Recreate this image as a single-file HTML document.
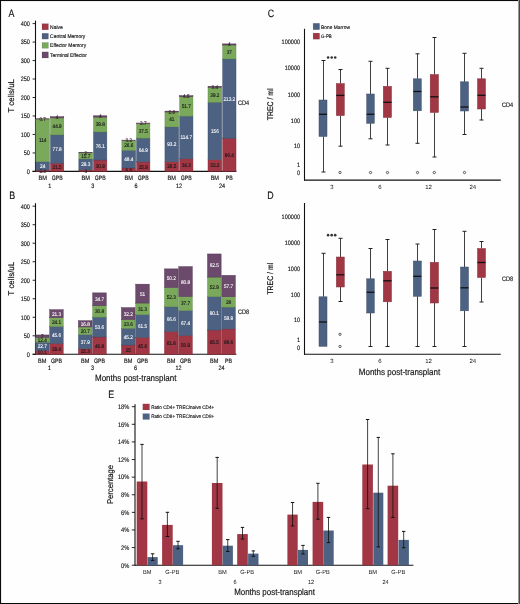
<!DOCTYPE html>
<html><head><meta charset="utf-8"><style>
html,body{margin:0;padding:0;background:#fff;}
body{width:520px;height:604px;overflow:hidden;position:relative;}
svg{position:absolute;left:0;top:0;will-change:transform;}
text{font-family:"Liberation Sans", sans-serif;text-rendering:geometricPrecision;paint-order:stroke;}
.bt{stroke:#111;stroke-width:0.14px;}
.wt{stroke:#fff;stroke-width:0.1px;}
</style></head><body>
<svg width="520" height="604" viewBox="0 0 520 604">
<rect x="0" y="0" width="520" height="604" fill="#fefefe"/>
<text x="8.4" y="16.5" font-size="10.8" text-anchor="start" fill="#111" textLength="5.91" lengthAdjust="spacingAndGlyphs" class="bt" >A</text>
<line x1="35.5" y1="20.599999999999994" x2="35.5" y2="171.9" stroke="#111" stroke-width="1.1"/>
<line x1="32.6" y1="171.4" x2="35.5" y2="171.4" stroke="#111" stroke-width="0.9"/>
<text x="29.9" y="173.75" font-size="6.6" text-anchor="end" fill="#111" textLength="3.08" lengthAdjust="spacingAndGlyphs" class="bt" >0</text>
<line x1="32.6" y1="152.925" x2="35.5" y2="152.925" stroke="#111" stroke-width="0.9"/>
<text x="29.9" y="155.275" font-size="6.6" text-anchor="end" fill="#111" textLength="6.17" lengthAdjust="spacingAndGlyphs" class="bt" >50</text>
<line x1="32.6" y1="134.45" x2="35.5" y2="134.45" stroke="#111" stroke-width="0.9"/>
<text x="29.9" y="136.79999999999998" font-size="6.6" text-anchor="end" fill="#111" textLength="9.25" lengthAdjust="spacingAndGlyphs" class="bt" >100</text>
<line x1="32.6" y1="115.975" x2="35.5" y2="115.975" stroke="#111" stroke-width="0.9"/>
<text x="29.9" y="118.32499999999999" font-size="6.6" text-anchor="end" fill="#111" textLength="9.25" lengthAdjust="spacingAndGlyphs" class="bt" >150</text>
<line x1="32.6" y1="97.5" x2="35.5" y2="97.5" stroke="#111" stroke-width="0.9"/>
<text x="29.9" y="99.85" font-size="6.6" text-anchor="end" fill="#111" textLength="9.25" lengthAdjust="spacingAndGlyphs" class="bt" >200</text>
<line x1="32.6" y1="79.02499999999999" x2="35.5" y2="79.02499999999999" stroke="#111" stroke-width="0.9"/>
<text x="29.9" y="81.37499999999999" font-size="6.6" text-anchor="end" fill="#111" textLength="9.25" lengthAdjust="spacingAndGlyphs" class="bt" >250</text>
<line x1="32.6" y1="60.55" x2="35.5" y2="60.55" stroke="#111" stroke-width="0.9"/>
<text x="29.9" y="62.9" font-size="6.6" text-anchor="end" fill="#111" textLength="9.25" lengthAdjust="spacingAndGlyphs" class="bt" >300</text>
<line x1="32.6" y1="42.07499999999999" x2="35.5" y2="42.07499999999999" stroke="#111" stroke-width="0.9"/>
<text x="29.9" y="44.42499999999999" font-size="6.6" text-anchor="end" fill="#111" textLength="9.25" lengthAdjust="spacingAndGlyphs" class="bt" >350</text>
<line x1="32.6" y1="23.599999999999994" x2="35.5" y2="23.599999999999994" stroke="#111" stroke-width="0.9"/>
<text x="29.9" y="25.949999999999996" font-size="6.6" text-anchor="end" fill="#111" textLength="9.25" lengthAdjust="spacingAndGlyphs" class="bt" >400</text>
<line x1="32.6" y1="171.4" x2="236.4" y2="171.4" stroke="#111" stroke-width="1.1"/>
<rect x="35.80" y="170.11" width="13.70" height="1.29" fill="#a13644" stroke="#7d2633" stroke-width="0.45"/>
<rect x="35.80" y="161.61" width="13.70" height="8.50" fill="#4d6282" stroke="#3c4d68" stroke-width="0.45"/>
<rect x="35.80" y="119.00" width="13.70" height="42.60" fill="#7aa95c" stroke="#5f8a45" stroke-width="0.45"/>
<rect x="35.80" y="118.78" width="13.70" height="0.22" fill="#6b4a6b" stroke="#4e2f50" stroke-width="0.45"/>
<text x="42.65" y="172.683375" font-size="5.4" text-anchor="middle" fill="#3a2a2a" textLength="6.53" lengthAdjust="spacingAndGlyphs" class="bt" >2.4</text>
<text x="42.65" y="167.78750000000002" font-size="5.4" text-anchor="middle" fill="#fff" textLength="5.23" lengthAdjust="spacingAndGlyphs" class="wt" >24</text>
<text x="42.65" y="142.23657500000002" font-size="5.4" text-anchor="middle" fill="#1a1a1a" textLength="7.49" lengthAdjust="spacingAndGlyphs" class="bt" >114</text>
<text x="42.65" y="120.82405" font-size="5.4" text-anchor="middle" fill="#3a2a2a" textLength="6.53" lengthAdjust="spacingAndGlyphs" class="bt" >0.7</text>
<text x="42.65" y="179.85" font-size="6.3" text-anchor="middle" fill="#111" textLength="8.4" lengthAdjust="spacingAndGlyphs" class="bt" >BM</text>
<rect x="50.50" y="163.20" width="13.30" height="8.20" fill="#a13644" stroke="#7d2633" stroke-width="0.45"/>
<rect x="50.50" y="134.89" width="13.30" height="28.30" fill="#4d6282" stroke="#3c4d68" stroke-width="0.45"/>
<rect x="50.50" y="117.90" width="13.30" height="17.00" fill="#7aa95c" stroke="#5f8a45" stroke-width="0.45"/>
<rect x="50.50" y="116.71" width="13.30" height="1.18" fill="#6b4a6b" stroke="#4e2f50" stroke-width="0.45"/>
<text x="57.15" y="169.22855" font-size="5.4" text-anchor="middle" fill="#1a1a1a" textLength="9.14" lengthAdjust="spacingAndGlyphs" class="bt" >21.5</text>
<text x="57.15" y="150.97525000000002" font-size="5.4" text-anchor="middle" fill="#fff" textLength="9.14" lengthAdjust="spacingAndGlyphs" class="wt" >77.8</text>
<text x="57.15" y="128.3249" font-size="5.4" text-anchor="middle" fill="#1a1a1a" textLength="9.14" lengthAdjust="spacingAndGlyphs" class="bt" >44.9</text>
<text x="57.15" y="119.2352" font-size="5.4" text-anchor="middle" fill="#3a2a2a" textLength="2.61" lengthAdjust="spacingAndGlyphs" class="bt" >4</text>
<text x="57.15" y="179.85" font-size="6.3" text-anchor="middle" fill="#111" textLength="11.0" lengthAdjust="spacingAndGlyphs" class="bt" >GPB</text>
<text x="49.8" y="188.05" font-size="6.3" text-anchor="middle" fill="#111" textLength="3.05" lengthAdjust="spacingAndGlyphs" class="bt" >1</text>
<rect x="78.85" y="169.89" width="13.70" height="1.51" fill="#a13644" stroke="#7d2633" stroke-width="0.45"/>
<rect x="78.85" y="158.87" width="13.70" height="11.01" fill="#4d6282" stroke="#3c4d68" stroke-width="0.45"/>
<rect x="78.85" y="152.89" width="13.70" height="5.99" fill="#7aa95c" stroke="#5f8a45" stroke-width="0.45"/>
<rect x="78.85" y="152.59" width="13.70" height="0.30" fill="#6b4a6b" stroke="#4e2f50" stroke-width="0.45"/>
<text x="85.69999999999999" y="172.572525" font-size="5.4" text-anchor="middle" fill="#3a2a2a" textLength="2.61" lengthAdjust="spacingAndGlyphs" class="bt" >4</text>
<text x="85.69999999999999" y="166.3095" font-size="5.4" text-anchor="middle" fill="#fff" textLength="9.14" lengthAdjust="spacingAndGlyphs" class="wt" >29.3</text>
<text x="85.69999999999999" y="157.811" font-size="5.4" text-anchor="middle" fill="#1a1a1a" textLength="9.14" lengthAdjust="spacingAndGlyphs" class="bt" >15.7</text>
<text x="85.69999999999999" y="154.67025" font-size="5.4" text-anchor="middle" fill="#3a2a2a" textLength="2.61" lengthAdjust="spacingAndGlyphs" class="bt" >2</text>
<text x="85.69999999999999" y="179.85" font-size="6.3" text-anchor="middle" fill="#111" textLength="8.4" lengthAdjust="spacingAndGlyphs" class="bt" >BM</text>
<rect x="93.55" y="159.98" width="13.30" height="11.42" fill="#a13644" stroke="#7d2633" stroke-width="0.45"/>
<rect x="93.55" y="131.97" width="13.30" height="28.01" fill="#4d6282" stroke="#3c4d68" stroke-width="0.45"/>
<rect x="93.55" y="117.08" width="13.30" height="14.89" fill="#7aa95c" stroke="#5f8a45" stroke-width="0.45"/>
<rect x="93.55" y="115.79" width="13.30" height="1.29" fill="#6b4a6b" stroke="#4e2f50" stroke-width="0.45"/>
<text x="100.2" y="167.621225" font-size="5.4" text-anchor="middle" fill="#1a1a1a" textLength="9.14" lengthAdjust="spacingAndGlyphs" class="bt" >30.9</text>
<text x="100.2" y="147.9084" font-size="5.4" text-anchor="middle" fill="#fff" textLength="9.14" lengthAdjust="spacingAndGlyphs" class="wt" >76.1</text>
<text x="100.2" y="126.45892500000001" font-size="5.4" text-anchor="middle" fill="#1a1a1a" textLength="9.14" lengthAdjust="spacingAndGlyphs" class="bt" >39.8</text>
<text x="100.2" y="118.36687500000001" font-size="5.4" text-anchor="middle" fill="#3a2a2a" textLength="2.61" lengthAdjust="spacingAndGlyphs" class="bt" >4</text>
<text x="100.2" y="179.85" font-size="6.3" text-anchor="middle" fill="#111" textLength="11.0" lengthAdjust="spacingAndGlyphs" class="bt" >GPB</text>
<text x="92.85" y="188.05" font-size="6.3" text-anchor="middle" fill="#111" textLength="3.05" lengthAdjust="spacingAndGlyphs" class="bt" >3</text>
<rect x="121.90" y="168.00" width="13.70" height="3.40" fill="#a13644" stroke="#7d2633" stroke-width="0.45"/>
<rect x="121.90" y="150.30" width="13.70" height="17.70" fill="#4d6282" stroke="#3c4d68" stroke-width="0.45"/>
<rect x="121.90" y="140.40" width="13.70" height="9.90" fill="#7aa95c" stroke="#5f8a45" stroke-width="0.45"/>
<rect x="121.90" y="140.10" width="13.70" height="0.30" fill="#6b4a6b" stroke="#4e2f50" stroke-width="0.45"/>
<text x="128.75" y="171.6303" font-size="5.4" text-anchor="middle" fill="#3a2a2a" textLength="6.53" lengthAdjust="spacingAndGlyphs" class="bt" >8.8</text>
<text x="128.75" y="161.081075" font-size="5.4" text-anchor="middle" fill="#fff" textLength="9.14" lengthAdjust="spacingAndGlyphs" class="wt" >48.4</text>
<text x="128.75" y="147.28025000000002" font-size="5.4" text-anchor="middle" fill="#1a1a1a" textLength="9.14" lengthAdjust="spacingAndGlyphs" class="bt" >26.6</text>
<text x="128.75" y="142.18115" font-size="5.4" text-anchor="middle" fill="#3a2a2a" textLength="6.53" lengthAdjust="spacingAndGlyphs" class="bt" >3.2</text>
<text x="128.75" y="179.85" font-size="6.3" text-anchor="middle" fill="#111" textLength="8.4" lengthAdjust="spacingAndGlyphs" class="bt" >BM</text>
<rect x="136.60" y="161.90" width="13.30" height="9.50" fill="#a13644" stroke="#7d2633" stroke-width="0.45"/>
<rect x="136.60" y="138.11" width="13.30" height="23.80" fill="#4d6282" stroke="#3c4d68" stroke-width="0.45"/>
<rect x="136.60" y="123.62" width="13.30" height="14.48" fill="#7aa95c" stroke="#5f8a45" stroke-width="0.45"/>
<rect x="136.60" y="123.03" width="13.30" height="0.59" fill="#6b4a6b" stroke="#4e2f50" stroke-width="0.45"/>
<text x="143.25" y="168.581925" font-size="5.4" text-anchor="middle" fill="#1a1a1a" textLength="9.14" lengthAdjust="spacingAndGlyphs" class="bt" >25.9</text>
<text x="143.25" y="151.93595000000002" font-size="5.4" text-anchor="middle" fill="#fff" textLength="9.14" lengthAdjust="spacingAndGlyphs" class="wt" >64.9</text>
<text x="143.25" y="132.79585" font-size="5.4" text-anchor="middle" fill="#1a1a1a" textLength="9.14" lengthAdjust="spacingAndGlyphs" class="bt" >37.5</text>
<text x="143.25" y="125.25805" font-size="5.4" text-anchor="middle" fill="#3a2a2a" textLength="6.53" lengthAdjust="spacingAndGlyphs" class="bt" >2.7</text>
<text x="143.25" y="179.85" font-size="6.3" text-anchor="middle" fill="#111" textLength="11.0" lengthAdjust="spacingAndGlyphs" class="bt" >GPB</text>
<text x="135.89999999999998" y="188.05" font-size="6.3" text-anchor="middle" fill="#111" textLength="3.05" lengthAdjust="spacingAndGlyphs" class="bt" >6</text>
<rect x="164.95" y="161.61" width="13.70" height="9.79" fill="#a13644" stroke="#7d2633" stroke-width="0.45"/>
<rect x="164.95" y="126.91" width="13.70" height="34.70" fill="#4d6282" stroke="#3c4d68" stroke-width="0.45"/>
<rect x="164.95" y="112.02" width="13.70" height="14.89" fill="#7aa95c" stroke="#5f8a45" stroke-width="0.45"/>
<rect x="164.95" y="111.13" width="13.70" height="0.89" fill="#6b4a6b" stroke="#4e2f50" stroke-width="0.45"/>
<text x="171.79999999999998" y="168.43412500000002" font-size="5.4" text-anchor="middle" fill="#1a1a1a" textLength="9.14" lengthAdjust="spacingAndGlyphs" class="bt" >26.5</text>
<text x="171.79999999999998" y="146.190225" font-size="5.4" text-anchor="middle" fill="#fff" textLength="9.14" lengthAdjust="spacingAndGlyphs" class="wt" >93.2</text>
<text x="171.79999999999998" y="121.39677499999999" font-size="5.4" text-anchor="middle" fill="#1a1a1a" textLength="5.23" lengthAdjust="spacingAndGlyphs" class="bt" >41</text>
<text x="171.79999999999998" y="113.50795000000002" font-size="5.4" text-anchor="middle" fill="#3a2a2a" textLength="6.53" lengthAdjust="spacingAndGlyphs" class="bt" >2.6</text>
<text x="171.79999999999998" y="179.85" font-size="6.3" text-anchor="middle" fill="#111" textLength="8.4" lengthAdjust="spacingAndGlyphs" class="bt" >BM</text>
<rect x="179.65" y="158.80" width="13.30" height="12.60" fill="#a13644" stroke="#7d2633" stroke-width="0.45"/>
<rect x="179.65" y="116.12" width="13.30" height="42.68" fill="#4d6282" stroke="#3c4d68" stroke-width="0.45"/>
<rect x="179.65" y="96.72" width="13.30" height="19.40" fill="#7aa95c" stroke="#5f8a45" stroke-width="0.45"/>
<rect x="179.65" y="95.62" width="13.30" height="1.11" fill="#6b4a6b" stroke="#4e2f50" stroke-width="0.45"/>
<text x="186.29999999999998" y="167.03002500000002" font-size="5.4" text-anchor="middle" fill="#1a1a1a" textLength="9.14" lengthAdjust="spacingAndGlyphs" class="bt" >34.3</text>
<text x="186.29999999999998" y="139.39142500000003" font-size="5.4" text-anchor="middle" fill="#fff" textLength="11.41" lengthAdjust="spacingAndGlyphs" class="wt" >114.7</text>
<text x="186.29999999999998" y="108.353425" font-size="5.4" text-anchor="middle" fill="#1a1a1a" textLength="9.14" lengthAdjust="spacingAndGlyphs" class="bt" >51.7</text>
<text x="186.29999999999998" y="98.0998" font-size="5.4" text-anchor="middle" fill="#3a2a2a" textLength="6.53" lengthAdjust="spacingAndGlyphs" class="bt" >4.5</text>
<text x="186.29999999999998" y="179.85" font-size="6.3" text-anchor="middle" fill="#111" textLength="11.0" lengthAdjust="spacingAndGlyphs" class="bt" >GPB</text>
<text x="178.95" y="188.05" font-size="6.3" text-anchor="middle" fill="#111" textLength="6.1" lengthAdjust="spacingAndGlyphs" class="bt" >12</text>
<rect x="208.00" y="159.61" width="13.70" height="11.79" fill="#a13644" stroke="#7d2633" stroke-width="0.45"/>
<rect x="208.00" y="102.23" width="13.70" height="57.38" fill="#4d6282" stroke="#3c4d68" stroke-width="0.45"/>
<rect x="208.00" y="87.34" width="13.70" height="14.89" fill="#7aa95c" stroke="#5f8a45" stroke-width="0.45"/>
<rect x="208.00" y="86.23" width="13.70" height="1.11" fill="#6b4a6b" stroke="#4e2f50" stroke-width="0.45"/>
<text x="214.85" y="167.436475" font-size="5.4" text-anchor="middle" fill="#1a1a1a" textLength="9.14" lengthAdjust="spacingAndGlyphs" class="bt" >32.2</text>
<text x="214.85" y="132.851275" font-size="5.4" text-anchor="middle" fill="#fff" textLength="7.84" lengthAdjust="spacingAndGlyphs" class="wt" >156</text>
<text x="214.85" y="96.714175" font-size="5.4" text-anchor="middle" fill="#1a1a1a" textLength="9.14" lengthAdjust="spacingAndGlyphs" class="bt" >39.2</text>
<text x="214.85" y="88.7145" font-size="5.4" text-anchor="middle" fill="#3a2a2a" textLength="6.53" lengthAdjust="spacingAndGlyphs" class="bt" >3.4</text>
<text x="214.85" y="179.85" font-size="6.3" text-anchor="middle" fill="#111" textLength="8.4" lengthAdjust="spacingAndGlyphs" class="bt" >BM</text>
<rect x="222.70" y="138.18" width="13.30" height="33.22" fill="#a13644" stroke="#7d2633" stroke-width="0.45"/>
<rect x="222.70" y="59.00" width="13.30" height="79.18" fill="#4d6282" stroke="#3c4d68" stroke-width="0.45"/>
<rect x="222.70" y="44.99" width="13.30" height="14.00" fill="#7aa95c" stroke="#5f8a45" stroke-width="0.45"/>
<rect x="222.70" y="43.89" width="13.30" height="1.11" fill="#6b4a6b" stroke="#4e2f50" stroke-width="0.45"/>
<text x="229.35" y="156.720975" font-size="5.4" text-anchor="middle" fill="#1a1a1a" textLength="9.14" lengthAdjust="spacingAndGlyphs" class="bt" >90.4</text>
<text x="229.35" y="100.520025" font-size="5.4" text-anchor="middle" fill="#fff" textLength="11.76" lengthAdjust="spacingAndGlyphs" class="wt" >213.2</text>
<text x="229.35" y="53.926074999999976" font-size="5.4" text-anchor="middle" fill="#1a1a1a" textLength="5.23" lengthAdjust="spacingAndGlyphs" class="bt" >37</text>
<text x="229.35" y="46.36979999999998" font-size="5.4" text-anchor="middle" fill="#3a2a2a" textLength="2.61" lengthAdjust="spacingAndGlyphs" class="bt" >4</text>
<text x="229.35" y="179.85" font-size="6.3" text-anchor="middle" fill="#111" textLength="7.0" lengthAdjust="spacingAndGlyphs" class="bt" >PB</text>
<text x="222.0" y="188.05" font-size="6.3" text-anchor="middle" fill="#111" textLength="6.1" lengthAdjust="spacingAndGlyphs" class="bt" >24</text>
<text x="237.9" y="104.7" font-size="6.5" text-anchor="start" fill="#111" textLength="11.1" lengthAdjust="spacingAndGlyphs" class="bt" >CD4</text>
<text transform="translate(13.7,95.8) rotate(-90)" font-size="8.4" text-anchor="middle" fill="#111" textLength="33.599999999999994" lengthAdjust="spacingAndGlyphs" stroke="#111" stroke-width="0.2" style="paint-order:stroke">T cells/uL</text>
<rect x="42.00" y="23.70" width="6.40" height="6.10" fill="#a13644" stroke="#0003" stroke-width="0.5"/>
<text x="50.1" y="28.75" font-size="5.4" text-anchor="start" fill="#111" textLength="12.7" lengthAdjust="spacingAndGlyphs" class="bt" >Naive</text>
<rect x="42.00" y="33.30" width="6.40" height="5.80" fill="#4d6282" stroke="#0003" stroke-width="0.5"/>
<text x="50.1" y="38.2" font-size="5.4" text-anchor="start" fill="#111" textLength="35.2" lengthAdjust="spacingAndGlyphs" class="bt" >Central Memory</text>
<rect x="42.00" y="42.50" width="6.40" height="5.80" fill="#7aa95c" stroke="#0003" stroke-width="0.5"/>
<text x="50.1" y="47.4" font-size="5.4" text-anchor="start" fill="#111" textLength="36.1" lengthAdjust="spacingAndGlyphs" class="bt" >Effector Memory</text>
<rect x="42.00" y="51.90" width="6.40" height="6.10" fill="#6b4a6b" stroke="#0003" stroke-width="0.5"/>
<text x="50.1" y="56.95" font-size="5.4" text-anchor="start" fill="#111" textLength="36.9" lengthAdjust="spacingAndGlyphs" class="bt" >Terminal Effector</text>
<text x="9.3" y="199.1" font-size="10.8" text-anchor="start" fill="#111" textLength="5.91" lengthAdjust="spacingAndGlyphs" class="bt" >B</text>
<line x1="35.5" y1="203.2" x2="35.5" y2="354.8" stroke="#111" stroke-width="1.1"/>
<line x1="32.6" y1="354.3" x2="35.5" y2="354.3" stroke="#111" stroke-width="0.9"/>
<text x="29.9" y="356.65000000000003" font-size="6.6" text-anchor="end" fill="#111" textLength="3.08" lengthAdjust="spacingAndGlyphs" class="bt" >0</text>
<line x1="32.6" y1="335.7875" x2="35.5" y2="335.7875" stroke="#111" stroke-width="0.9"/>
<text x="29.9" y="338.13750000000005" font-size="6.6" text-anchor="end" fill="#111" textLength="6.17" lengthAdjust="spacingAndGlyphs" class="bt" >50</text>
<line x1="32.6" y1="317.275" x2="35.5" y2="317.275" stroke="#111" stroke-width="0.9"/>
<text x="29.9" y="319.625" font-size="6.6" text-anchor="end" fill="#111" textLength="9.25" lengthAdjust="spacingAndGlyphs" class="bt" >100</text>
<line x1="32.6" y1="298.7625" x2="35.5" y2="298.7625" stroke="#111" stroke-width="0.9"/>
<text x="29.9" y="301.1125" font-size="6.6" text-anchor="end" fill="#111" textLength="9.25" lengthAdjust="spacingAndGlyphs" class="bt" >150</text>
<line x1="32.6" y1="280.25" x2="35.5" y2="280.25" stroke="#111" stroke-width="0.9"/>
<text x="29.9" y="282.6" font-size="6.6" text-anchor="end" fill="#111" textLength="9.25" lengthAdjust="spacingAndGlyphs" class="bt" >200</text>
<line x1="32.6" y1="261.7375" x2="35.5" y2="261.7375" stroke="#111" stroke-width="0.9"/>
<text x="29.9" y="264.08750000000003" font-size="6.6" text-anchor="end" fill="#111" textLength="9.25" lengthAdjust="spacingAndGlyphs" class="bt" >250</text>
<line x1="32.6" y1="243.225" x2="35.5" y2="243.225" stroke="#111" stroke-width="0.9"/>
<text x="29.9" y="245.575" font-size="6.6" text-anchor="end" fill="#111" textLength="9.25" lengthAdjust="spacingAndGlyphs" class="bt" >300</text>
<line x1="32.6" y1="224.71249999999998" x2="35.5" y2="224.71249999999998" stroke="#111" stroke-width="0.9"/>
<text x="29.9" y="227.06249999999997" font-size="6.6" text-anchor="end" fill="#111" textLength="9.25" lengthAdjust="spacingAndGlyphs" class="bt" >350</text>
<line x1="32.6" y1="206.2" x2="35.5" y2="206.2" stroke="#111" stroke-width="0.9"/>
<text x="29.9" y="208.54999999999998" font-size="6.6" text-anchor="end" fill="#111" textLength="9.25" lengthAdjust="spacingAndGlyphs" class="bt" >400</text>
<line x1="32.6" y1="354.3" x2="236.4" y2="354.3" stroke="#111" stroke-width="1.1"/>
<rect x="35.40" y="350.56" width="13.60" height="3.74" fill="#a13644" stroke="#7d2633" stroke-width="0.45"/>
<rect x="35.40" y="342.16" width="13.60" height="8.40" fill="#4d6282" stroke="#3c4d68" stroke-width="0.45"/>
<rect x="35.40" y="337.56" width="13.60" height="4.59" fill="#7aa95c" stroke="#5f8a45" stroke-width="0.45"/>
<rect x="35.40" y="334.97" width="13.60" height="2.59" fill="#6b4a6b" stroke="#4e2f50" stroke-width="0.45"/>
<text x="42.199999999999996" y="354.36023750000004" font-size="5.4" text-anchor="middle" fill="#3a2a2a" textLength="9.14" lengthAdjust="spacingAndGlyphs" class="bt" >10.1</text>
<text x="42.199999999999996" y="348.2881375" font-size="5.4" text-anchor="middle" fill="#fff" textLength="9.14" lengthAdjust="spacingAndGlyphs" class="wt" >22.7</text>
<text x="42.199999999999996" y="341.79025" font-size="5.4" text-anchor="middle" fill="#1a1a1a" textLength="9.14" lengthAdjust="spacingAndGlyphs" class="bt" >12.4</text>
<text x="42.199999999999996" y="338.198825" font-size="5.4" text-anchor="middle" fill="#3a2a2a" textLength="2.61" lengthAdjust="spacingAndGlyphs" class="bt" >7</text>
<text x="42.199999999999996" y="362.65000000000003" font-size="6.3" text-anchor="middle" fill="#111" textLength="8.4" lengthAdjust="spacingAndGlyphs" class="bt" >BM</text>
<rect x="49.70" y="343.41" width="13.50" height="10.89" fill="#a13644" stroke="#7d2633" stroke-width="0.45"/>
<rect x="49.70" y="326.53" width="13.50" height="16.88" fill="#4d6282" stroke="#3c4d68" stroke-width="0.45"/>
<rect x="49.70" y="317.61" width="13.50" height="8.92" fill="#7aa95c" stroke="#5f8a45" stroke-width="0.45"/>
<rect x="49.70" y="309.72" width="13.50" height="7.89" fill="#6b4a6b" stroke="#4e2f50" stroke-width="0.45"/>
<text x="56.45" y="350.787325" font-size="5.4" text-anchor="middle" fill="#1a1a1a" textLength="9.14" lengthAdjust="spacingAndGlyphs" class="bt" >29.4</text>
<text x="56.45" y="336.90295000000003" font-size="5.4" text-anchor="middle" fill="#fff" textLength="9.14" lengthAdjust="spacingAndGlyphs" class="wt" >45.6</text>
<text x="56.45" y="323.9997375" font-size="5.4" text-anchor="middle" fill="#1a1a1a" textLength="9.14" lengthAdjust="spacingAndGlyphs" class="bt" >24.1</text>
<text x="56.45" y="315.5950625" font-size="5.4" text-anchor="middle" fill="#fff" textLength="9.14" lengthAdjust="spacingAndGlyphs" class="wt" >21.3</text>
<text x="56.45" y="362.65000000000003" font-size="6.3" text-anchor="middle" fill="#111" textLength="11.0" lengthAdjust="spacingAndGlyphs" class="bt" >GPB</text>
<text x="49.4" y="369.55" font-size="6.3" text-anchor="middle" fill="#111" textLength="3.05" lengthAdjust="spacingAndGlyphs" class="bt" >1</text>
<rect x="78.43" y="348.64" width="13.60" height="5.66" fill="#a13644" stroke="#7d2633" stroke-width="0.45"/>
<rect x="78.43" y="334.60" width="13.60" height="14.03" fill="#4d6282" stroke="#3c4d68" stroke-width="0.45"/>
<rect x="78.43" y="326.94" width="13.60" height="7.66" fill="#7aa95c" stroke="#5f8a45" stroke-width="0.45"/>
<rect x="78.43" y="320.72" width="13.60" height="6.22" fill="#6b4a6b" stroke="#4e2f50" stroke-width="0.45"/>
<text x="85.23" y="353.39758750000004" font-size="5.4" text-anchor="middle" fill="#1a1a1a" textLength="9.14" lengthAdjust="spacingAndGlyphs" class="bt" >15.3</text>
<text x="85.23" y="343.5489375" font-size="5.4" text-anchor="middle" fill="#fff" textLength="9.14" lengthAdjust="spacingAndGlyphs" class="wt" >37.9</text>
<text x="85.23" y="332.70061250000003" font-size="5.4" text-anchor="middle" fill="#1a1a1a" textLength="9.14" lengthAdjust="spacingAndGlyphs" class="bt" >20.7</text>
<text x="85.23" y="325.758425" font-size="5.4" text-anchor="middle" fill="#fff" textLength="9.14" lengthAdjust="spacingAndGlyphs" class="wt" >16.8</text>
<text x="85.23" y="362.65000000000003" font-size="6.3" text-anchor="middle" fill="#111" textLength="8.4" lengthAdjust="spacingAndGlyphs" class="bt" >BM</text>
<rect x="92.73" y="336.97" width="13.50" height="17.33" fill="#a13644" stroke="#7d2633" stroke-width="0.45"/>
<rect x="92.73" y="317.13" width="13.50" height="19.85" fill="#4d6282" stroke="#3c4d68" stroke-width="0.45"/>
<rect x="92.73" y="305.72" width="13.50" height="11.40" fill="#7aa95c" stroke="#5f8a45" stroke-width="0.45"/>
<rect x="92.73" y="292.88" width="13.50" height="12.85" fill="#6b4a6b" stroke="#4e2f50" stroke-width="0.45"/>
<text x="99.48" y="347.56615" font-size="5.4" text-anchor="middle" fill="#1a1a1a" textLength="9.14" lengthAdjust="spacingAndGlyphs" class="bt" >46.8</text>
<text x="99.48" y="328.9796" font-size="5.4" text-anchor="middle" fill="#fff" textLength="9.14" lengthAdjust="spacingAndGlyphs" class="wt" >53.6</text>
<text x="99.48" y="313.35505" font-size="5.4" text-anchor="middle" fill="#1a1a1a" textLength="9.14" lengthAdjust="spacingAndGlyphs" class="bt" >30.8</text>
<text x="99.48" y="301.2293625" font-size="5.4" text-anchor="middle" fill="#fff" textLength="9.14" lengthAdjust="spacingAndGlyphs" class="wt" >34.7</text>
<text x="99.48" y="362.65000000000003" font-size="6.3" text-anchor="middle" fill="#111" textLength="11.0" lengthAdjust="spacingAndGlyphs" class="bt" >GPB</text>
<text x="92.43" y="369.55" font-size="6.3" text-anchor="middle" fill="#111" textLength="3.05" lengthAdjust="spacingAndGlyphs" class="bt" >3</text>
<rect x="121.46" y="345.04" width="13.60" height="9.26" fill="#a13644" stroke="#7d2633" stroke-width="0.45"/>
<rect x="121.46" y="328.31" width="13.60" height="16.74" fill="#4d6282" stroke="#3c4d68" stroke-width="0.45"/>
<rect x="121.46" y="319.57" width="13.60" height="8.74" fill="#7aa95c" stroke="#5f8a45" stroke-width="0.45"/>
<rect x="121.46" y="307.65" width="13.60" height="11.92" fill="#6b4a6b" stroke="#4e2f50" stroke-width="0.45"/>
<text x="128.26000000000002" y="351.601875" font-size="5.4" text-anchor="middle" fill="#1a1a1a" textLength="5.23" lengthAdjust="spacingAndGlyphs" class="bt" >25</text>
<text x="128.26000000000002" y="338.6061" font-size="5.4" text-anchor="middle" fill="#fff" textLength="9.14" lengthAdjust="spacingAndGlyphs" class="wt" >45.2</text>
<text x="128.26000000000002" y="325.8695" font-size="5.4" text-anchor="middle" fill="#1a1a1a" textLength="9.14" lengthAdjust="spacingAndGlyphs" class="bt" >23.6</text>
<text x="128.26000000000002" y="315.539525" font-size="5.4" text-anchor="middle" fill="#fff" textLength="9.14" lengthAdjust="spacingAndGlyphs" class="wt" >32.2</text>
<text x="128.26000000000002" y="362.65000000000003" font-size="6.3" text-anchor="middle" fill="#111" textLength="8.4" lengthAdjust="spacingAndGlyphs" class="bt" >BM</text>
<rect x="135.76" y="337.42" width="13.50" height="16.88" fill="#a13644" stroke="#7d2633" stroke-width="0.45"/>
<rect x="135.76" y="314.65" width="13.50" height="22.77" fill="#4d6282" stroke="#3c4d68" stroke-width="0.45"/>
<rect x="135.76" y="303.06" width="13.50" height="11.59" fill="#7aa95c" stroke="#5f8a45" stroke-width="0.45"/>
<rect x="135.76" y="284.17" width="13.50" height="18.88" fill="#6b4a6b" stroke="#4e2f50" stroke-width="0.45"/>
<text x="142.51000000000002" y="347.7883" font-size="5.4" text-anchor="middle" fill="#1a1a1a" textLength="9.14" lengthAdjust="spacingAndGlyphs" class="bt" >45.6</text>
<text x="142.51000000000002" y="327.9614125" font-size="5.4" text-anchor="middle" fill="#fff" textLength="9.14" lengthAdjust="spacingAndGlyphs" class="wt" >61.5</text>
<text x="142.51000000000002" y="310.7818125" font-size="5.4" text-anchor="middle" fill="#1a1a1a" textLength="9.14" lengthAdjust="spacingAndGlyphs" class="bt" >31.3</text>
<text x="142.51000000000002" y="295.546025" font-size="5.4" text-anchor="middle" fill="#fff" textLength="5.23" lengthAdjust="spacingAndGlyphs" class="wt" >51</text>
<text x="142.51000000000002" y="362.65000000000003" font-size="6.3" text-anchor="middle" fill="#111" textLength="11.0" lengthAdjust="spacingAndGlyphs" class="bt" >GPB</text>
<text x="135.46" y="369.55" font-size="6.3" text-anchor="middle" fill="#111" textLength="3.05" lengthAdjust="spacingAndGlyphs" class="bt" >6</text>
<rect x="164.49" y="331.49" width="13.60" height="22.81" fill="#a13644" stroke="#7d2633" stroke-width="0.45"/>
<rect x="164.49" y="306.83" width="13.60" height="24.66" fill="#4d6282" stroke="#3c4d68" stroke-width="0.45"/>
<rect x="164.49" y="287.47" width="13.60" height="19.36" fill="#7aa95c" stroke="#5f8a45" stroke-width="0.45"/>
<rect x="164.49" y="268.88" width="13.60" height="18.59" fill="#6b4a6b" stroke="#4e2f50" stroke-width="0.45"/>
<text x="171.29000000000002" y="344.8263" font-size="5.4" text-anchor="middle" fill="#1a1a1a" textLength="9.14" lengthAdjust="spacingAndGlyphs" class="bt" >61.6</text>
<text x="171.29000000000002" y="321.093275" font-size="5.4" text-anchor="middle" fill="#fff" textLength="9.14" lengthAdjust="spacingAndGlyphs" class="wt" >66.6</text>
<text x="171.29000000000002" y="299.0819125" font-size="5.4" text-anchor="middle" fill="#1a1a1a" textLength="9.14" lengthAdjust="spacingAndGlyphs" class="bt" >52.3</text>
<text x="171.29000000000002" y="280.1066" font-size="5.4" text-anchor="middle" fill="#fff" textLength="9.14" lengthAdjust="spacingAndGlyphs" class="wt" >50.2</text>
<text x="171.29000000000002" y="362.65000000000003" font-size="6.3" text-anchor="middle" fill="#111" textLength="8.4" lengthAdjust="spacingAndGlyphs" class="bt" >BM</text>
<rect x="178.79" y="335.45" width="13.50" height="18.85" fill="#a13644" stroke="#7d2633" stroke-width="0.45"/>
<rect x="178.79" y="310.50" width="13.50" height="24.95" fill="#4d6282" stroke="#3c4d68" stroke-width="0.45"/>
<rect x="178.79" y="296.54" width="13.50" height="13.96" fill="#7aa95c" stroke="#5f8a45" stroke-width="0.45"/>
<rect x="178.79" y="266.62" width="13.50" height="29.92" fill="#6b4a6b" stroke="#4e2f50" stroke-width="0.45"/>
<text x="185.54000000000002" y="346.8071375" font-size="5.4" text-anchor="middle" fill="#1a1a1a" textLength="9.14" lengthAdjust="spacingAndGlyphs" class="bt" >50.9</text>
<text x="185.54000000000002" y="324.90685" font-size="5.4" text-anchor="middle" fill="#fff" textLength="9.14" lengthAdjust="spacingAndGlyphs" class="wt" >67.4</text>
<text x="185.54000000000002" y="305.4502125" font-size="5.4" text-anchor="middle" fill="#1a1a1a" textLength="9.14" lengthAdjust="spacingAndGlyphs" class="bt" >37.7</text>
<text x="185.54000000000002" y="283.5129" font-size="5.4" text-anchor="middle" fill="#fff" textLength="9.14" lengthAdjust="spacingAndGlyphs" class="wt" >80.8</text>
<text x="185.54000000000002" y="362.65000000000003" font-size="6.3" text-anchor="middle" fill="#111" textLength="11.0" lengthAdjust="spacingAndGlyphs" class="bt" >GPB</text>
<text x="178.49" y="369.55" font-size="6.3" text-anchor="middle" fill="#111" textLength="6.1" lengthAdjust="spacingAndGlyphs" class="bt" >12</text>
<rect x="207.52" y="330.05" width="13.60" height="24.25" fill="#a13644" stroke="#7d2633" stroke-width="0.45"/>
<rect x="207.52" y="296.69" width="13.60" height="33.36" fill="#4d6282" stroke="#3c4d68" stroke-width="0.45"/>
<rect x="207.52" y="277.10" width="13.60" height="19.59" fill="#7aa95c" stroke="#5f8a45" stroke-width="0.45"/>
<rect x="207.52" y="253.96" width="13.60" height="23.14" fill="#6b4a6b" stroke="#4e2f50" stroke-width="0.45"/>
<text x="214.32000000000002" y="344.1043125" font-size="5.4" text-anchor="middle" fill="#1a1a1a" textLength="9.14" lengthAdjust="spacingAndGlyphs" class="bt" >65.5</text>
<text x="214.32000000000002" y="315.2988625" font-size="5.4" text-anchor="middle" fill="#fff" textLength="9.14" lengthAdjust="spacingAndGlyphs" class="wt" >90.1</text>
<text x="214.32000000000002" y="288.8259875" font-size="5.4" text-anchor="middle" fill="#1a1a1a" textLength="9.14" lengthAdjust="spacingAndGlyphs" class="bt" >52.9</text>
<text x="214.32000000000002" y="267.4625625" font-size="5.4" text-anchor="middle" fill="#fff" textLength="9.14" lengthAdjust="spacingAndGlyphs" class="wt" >62.5</text>
<text x="214.32000000000002" y="362.65000000000003" font-size="6.3" text-anchor="middle" fill="#111" textLength="8.4" lengthAdjust="spacingAndGlyphs" class="bt" >BM</text>
<rect x="221.82" y="328.90" width="13.50" height="25.40" fill="#a13644" stroke="#7d2633" stroke-width="0.45"/>
<rect x="221.82" y="307.09" width="13.50" height="21.81" fill="#4d6282" stroke="#3c4d68" stroke-width="0.45"/>
<rect x="221.82" y="296.73" width="13.50" height="10.37" fill="#7aa95c" stroke="#5f8a45" stroke-width="0.45"/>
<rect x="221.82" y="275.36" width="13.50" height="21.36" fill="#6b4a6b" stroke="#4e2f50" stroke-width="0.45"/>
<text x="228.57000000000002" y="343.53042500000004" font-size="5.4" text-anchor="middle" fill="#1a1a1a" textLength="9.14" lengthAdjust="spacingAndGlyphs" class="bt" >68.6</text>
<text x="228.57000000000002" y="319.9269875" font-size="5.4" text-anchor="middle" fill="#fff" textLength="9.14" lengthAdjust="spacingAndGlyphs" class="wt" >58.9</text>
<text x="228.57000000000002" y="303.839625" font-size="5.4" text-anchor="middle" fill="#1a1a1a" textLength="5.23" lengthAdjust="spacingAndGlyphs" class="bt" >28</text>
<text x="228.57000000000002" y="287.9744125" font-size="5.4" text-anchor="middle" fill="#fff" textLength="9.14" lengthAdjust="spacingAndGlyphs" class="wt" >57.7</text>
<text x="228.57000000000002" y="362.65000000000003" font-size="6.3" text-anchor="middle" fill="#111" textLength="7.0" lengthAdjust="spacingAndGlyphs" class="bt" >PB</text>
<text x="221.52" y="369.55" font-size="6.3" text-anchor="middle" fill="#111" textLength="6.1" lengthAdjust="spacingAndGlyphs" class="bt" >24</text>
<text x="237.9" y="313.8" font-size="6.5" text-anchor="start" fill="#111" textLength="11.1" lengthAdjust="spacingAndGlyphs" class="bt" >CD8</text>
<text transform="translate(13.7,278.65) rotate(-90)" font-size="8.4" text-anchor="middle" fill="#111" textLength="33.5" lengthAdjust="spacingAndGlyphs" stroke="#111" stroke-width="0.2" style="paint-order:stroke">T cells/uL</text>
<text x="135.7" y="380.9" font-size="9.0" text-anchor="middle" fill="#111" textLength="81.4" lengthAdjust="spacingAndGlyphs" stroke="#111" stroke-width="0.16">Months post-transplant</text>
<text x="267.7" y="16.5" font-size="10.8" text-anchor="start" fill="#111" textLength="6.4" lengthAdjust="spacingAndGlyphs" class="bt" >C</text>
<line x1="304.5" y1="28.8" x2="304.5" y2="180.6" stroke="#111" stroke-width="1.1"/>
<line x1="304" y1="180.1" x2="500.8" y2="180.1" stroke="#111" stroke-width="1.1"/>
<text x="300.1" y="44.05" font-size="6.3" text-anchor="end" fill="#111" textLength="18.5" lengthAdjust="spacingAndGlyphs" class="bt" >100000</text>
<text x="300.1" y="70.25" font-size="6.3" text-anchor="end" fill="#111" textLength="15.42" lengthAdjust="spacingAndGlyphs" class="bt" >10000</text>
<text x="300.1" y="96.55" font-size="6.3" text-anchor="end" fill="#111" textLength="12.33" lengthAdjust="spacingAndGlyphs" class="bt" >1000</text>
<text x="300.1" y="122.75" font-size="6.3" text-anchor="end" fill="#111" textLength="9.25" lengthAdjust="spacingAndGlyphs" class="bt" >100</text>
<text x="300.1" y="147.75" font-size="6.3" text-anchor="end" fill="#111" textLength="6.17" lengthAdjust="spacingAndGlyphs" class="bt" >10</text>
<text x="300.1" y="166.75" font-size="6.3" text-anchor="end" fill="#111" textLength="3.08" lengthAdjust="spacingAndGlyphs" class="bt" >1</text>
<text x="300.1" y="174.75" font-size="6.3" text-anchor="end" fill="#111" textLength="3.08" lengthAdjust="spacingAndGlyphs" class="bt" >0</text>
<line x1="323.5" y1="60.5" x2="323.5" y2="100" stroke="#2a2a2a" stroke-width="0.9"/>
<line x1="321.5" y1="60.5" x2="325.5" y2="60.5" stroke="#222" stroke-width="1.0"/>
<line x1="323.5" y1="136.5" x2="323.5" y2="172" stroke="#2a2a2a" stroke-width="0.9"/>
<line x1="321.5" y1="172" x2="325.5" y2="172" stroke="#222" stroke-width="1.0"/>
<rect x="319.00" y="100.00" width="8.00" height="36.50" fill="#4d6282" stroke="#3e4f69" stroke-width="0.5"/>
<line x1="319" y1="114.3" x2="327" y2="114.3" stroke="#111" stroke-width="1.3"/>
<line x1="340.5" y1="69.5" x2="340.5" y2="83.6" stroke="#2a2a2a" stroke-width="0.9"/>
<line x1="338.5" y1="69.5" x2="342.5" y2="69.5" stroke="#222" stroke-width="1.0"/>
<line x1="340.5" y1="115.6" x2="340.5" y2="146.2" stroke="#2a2a2a" stroke-width="0.9"/>
<line x1="338.5" y1="146.2" x2="342.5" y2="146.2" stroke="#222" stroke-width="1.0"/>
<rect x="336.30" y="83.60" width="8.00" height="32.00" fill="#a13644" stroke="#85303b" stroke-width="0.5"/>
<line x1="336.3" y1="95.4" x2="344.3" y2="95.4" stroke="#111" stroke-width="1.3"/>
<line x1="370.5" y1="61.3" x2="370.5" y2="94" stroke="#2a2a2a" stroke-width="0.9"/>
<line x1="368.5" y1="61.3" x2="372.5" y2="61.3" stroke="#222" stroke-width="1.0"/>
<line x1="370.5" y1="123.3" x2="370.5" y2="138.8" stroke="#2a2a2a" stroke-width="0.9"/>
<line x1="368.5" y1="138.8" x2="372.5" y2="138.8" stroke="#222" stroke-width="1.0"/>
<rect x="366.70" y="94.00" width="7.60" height="29.30" fill="#4d6282" stroke="#3e4f69" stroke-width="0.5"/>
<line x1="366.7" y1="114.3" x2="374.3" y2="114.3" stroke="#111" stroke-width="1.3"/>
<line x1="387.5" y1="68.3" x2="387.5" y2="86.3" stroke="#2a2a2a" stroke-width="0.9"/>
<line x1="385.5" y1="68.3" x2="389.5" y2="68.3" stroke="#222" stroke-width="1.0"/>
<line x1="387.5" y1="117.5" x2="387.5" y2="145" stroke="#2a2a2a" stroke-width="0.9"/>
<line x1="385.5" y1="145" x2="389.5" y2="145" stroke="#222" stroke-width="1.0"/>
<rect x="383.30" y="86.30" width="8.20" height="31.20" fill="#a13644" stroke="#85303b" stroke-width="0.5"/>
<line x1="383.3" y1="102.3" x2="391.5" y2="102.3" stroke="#111" stroke-width="1.3"/>
<line x1="417.5" y1="53.8" x2="417.5" y2="78.8" stroke="#2a2a2a" stroke-width="0.9"/>
<line x1="415.5" y1="53.8" x2="419.5" y2="53.8" stroke="#222" stroke-width="1.0"/>
<line x1="417.5" y1="110.8" x2="417.5" y2="143.3" stroke="#2a2a2a" stroke-width="0.9"/>
<line x1="415.5" y1="143.3" x2="419.5" y2="143.3" stroke="#222" stroke-width="1.0"/>
<rect x="413.30" y="78.80" width="8.00" height="32.00" fill="#4d6282" stroke="#3e4f69" stroke-width="0.5"/>
<line x1="413.3" y1="91.5" x2="421.3" y2="91.5" stroke="#111" stroke-width="1.3"/>
<line x1="434.5" y1="37.5" x2="434.5" y2="74.5" stroke="#2a2a2a" stroke-width="0.9"/>
<line x1="432.5" y1="37.5" x2="436.5" y2="37.5" stroke="#222" stroke-width="1.0"/>
<line x1="434.5" y1="112.5" x2="434.5" y2="157" stroke="#2a2a2a" stroke-width="0.9"/>
<line x1="432.5" y1="157" x2="436.5" y2="157" stroke="#222" stroke-width="1.0"/>
<rect x="430.20" y="74.50" width="8.30" height="38.00" fill="#a13644" stroke="#85303b" stroke-width="0.5"/>
<line x1="430.2" y1="96.8" x2="438.5" y2="96.8" stroke="#111" stroke-width="1.3"/>
<line x1="464.5" y1="53.3" x2="464.5" y2="81.8" stroke="#2a2a2a" stroke-width="0.9"/>
<line x1="462.5" y1="53.3" x2="466.5" y2="53.3" stroke="#222" stroke-width="1.0"/>
<line x1="464.5" y1="111" x2="464.5" y2="134.5" stroke="#2a2a2a" stroke-width="0.9"/>
<line x1="462.5" y1="134.5" x2="466.5" y2="134.5" stroke="#222" stroke-width="1.0"/>
<rect x="460.50" y="81.80" width="8.00" height="29.20" fill="#4d6282" stroke="#3e4f69" stroke-width="0.5"/>
<line x1="460.5" y1="107" x2="468.5" y2="107" stroke="#111" stroke-width="1.3"/>
<line x1="481.5" y1="68.3" x2="481.5" y2="78.8" stroke="#2a2a2a" stroke-width="0.9"/>
<line x1="479.5" y1="68.3" x2="483.5" y2="68.3" stroke="#222" stroke-width="1.0"/>
<line x1="481.5" y1="109" x2="481.5" y2="120" stroke="#2a2a2a" stroke-width="0.9"/>
<line x1="479.5" y1="120" x2="483.5" y2="120" stroke="#222" stroke-width="1.0"/>
<rect x="477.50" y="78.80" width="8.00" height="30.20" fill="#a13644" stroke="#85303b" stroke-width="0.5"/>
<line x1="477.5" y1="95.3" x2="485.5" y2="95.3" stroke="#111" stroke-width="1.3"/>
<circle cx="340" cy="172.5" r="1.15" fill="none" stroke="#222" stroke-width="0.7"/>
<circle cx="370.5" cy="172.5" r="1.15" fill="none" stroke="#222" stroke-width="0.7"/>
<circle cx="387.5" cy="172.5" r="1.15" fill="none" stroke="#222" stroke-width="0.7"/>
<circle cx="417.5" cy="172.5" r="1.15" fill="none" stroke="#222" stroke-width="0.7"/>
<circle cx="434.3" cy="172.5" r="1.15" fill="none" stroke="#222" stroke-width="0.7"/>
<circle cx="464.5" cy="172.5" r="1.15" fill="none" stroke="#222" stroke-width="0.7"/>
<circle cx="328.1" cy="57.5" r="1.3" fill="#333"/>
<circle cx="331.7" cy="57.5" r="1.3" fill="#333"/>
<circle cx="335.2" cy="57.5" r="1.3" fill="#333"/>
<text x="331.8" y="188.5" font-size="6.0" text-anchor="middle" fill="#111" stroke="none">3</text>
<text x="380" y="188.5" font-size="6.0" text-anchor="middle" fill="#111" stroke="none">6</text>
<text x="428.5" y="188.5" font-size="6.0" text-anchor="middle" fill="#111" stroke="none">12</text>
<text x="472.8" y="188.5" font-size="6.0" text-anchor="middle" fill="#111" stroke="none">24</text>
<text x="502.0" y="106.5" font-size="6.5" text-anchor="start" fill="#111" textLength="11.1" lengthAdjust="spacingAndGlyphs" class="bt" >CD4</text>
<text transform="translate(273.2,104.4) rotate(-90)" font-size="8.2" text-anchor="middle" fill="#111" textLength="31.8" lengthAdjust="spacingAndGlyphs" stroke="#111" stroke-width="0.2" style="paint-order:stroke">TREC / ml</text>
<rect x="313.10" y="23.30" width="6.50" height="6.40" fill="#4d6282" stroke="#0003" stroke-width="0.5"/>
<text x="321.1" y="28.6" font-size="5.0" text-anchor="start" fill="#111" textLength="28.8" lengthAdjust="spacingAndGlyphs" class="bt" >Bone Marrow</text>
<rect x="313.10" y="33.10" width="6.50" height="6.10" fill="#a13644" stroke="#0003" stroke-width="0.5"/>
<text x="321.1" y="38.0" font-size="5.0" text-anchor="start" fill="#111" textLength="10.7" lengthAdjust="spacingAndGlyphs" class="bt" >G-PB</text>
<text x="267.3" y="199.2" font-size="10.8" text-anchor="start" fill="#111" textLength="6.4" lengthAdjust="spacingAndGlyphs" class="bt" >D</text>
<line x1="304.5" y1="203" x2="304.5" y2="354.8" stroke="#111" stroke-width="1.1"/>
<line x1="304" y1="354.3" x2="500.8" y2="354.3" stroke="#111" stroke-width="1.1"/>
<text x="300.1" y="218.55" font-size="6.3" text-anchor="end" fill="#111" textLength="18.5" lengthAdjust="spacingAndGlyphs" class="bt" >100000</text>
<text x="300.1" y="244.75" font-size="6.3" text-anchor="end" fill="#111" textLength="15.42" lengthAdjust="spacingAndGlyphs" class="bt" >10000</text>
<text x="300.1" y="271.05" font-size="6.3" text-anchor="end" fill="#111" textLength="12.33" lengthAdjust="spacingAndGlyphs" class="bt" >1000</text>
<text x="300.1" y="297.25" font-size="6.3" text-anchor="end" fill="#111" textLength="9.25" lengthAdjust="spacingAndGlyphs" class="bt" >100</text>
<text x="300.1" y="322.25" font-size="6.3" text-anchor="end" fill="#111" textLength="6.17" lengthAdjust="spacingAndGlyphs" class="bt" >10</text>
<text x="300.1" y="341.75" font-size="6.3" text-anchor="end" fill="#111" textLength="3.08" lengthAdjust="spacingAndGlyphs" class="bt" >1</text>
<text x="300.1" y="350.05" font-size="6.3" text-anchor="end" fill="#111" textLength="3.08" lengthAdjust="spacingAndGlyphs" class="bt" >0</text>
<line x1="323.5" y1="253.3" x2="323.5" y2="296.8" stroke="#2a2a2a" stroke-width="0.9"/>
<line x1="321.5" y1="253.3" x2="325.5" y2="253.3" stroke="#222" stroke-width="1.0"/>
<rect x="319.00" y="296.80" width="8.00" height="49.50" fill="#4d6282" stroke="#3e4f69" stroke-width="0.5"/>
<line x1="319" y1="322" x2="327" y2="322" stroke="#111" stroke-width="1.3"/>
<line x1="340.5" y1="238.3" x2="340.5" y2="257" stroke="#2a2a2a" stroke-width="0.9"/>
<line x1="338.5" y1="238.3" x2="342.5" y2="238.3" stroke="#222" stroke-width="1.0"/>
<line x1="340.5" y1="287" x2="340.5" y2="301.5" stroke="#2a2a2a" stroke-width="0.9"/>
<line x1="338.5" y1="301.5" x2="342.5" y2="301.5" stroke="#222" stroke-width="1.0"/>
<rect x="336.30" y="257.00" width="8.00" height="30.00" fill="#a13644" stroke="#85303b" stroke-width="0.5"/>
<line x1="336.3" y1="274.8" x2="344.3" y2="274.8" stroke="#111" stroke-width="1.3"/>
<line x1="370.5" y1="248.5" x2="370.5" y2="278.8" stroke="#2a2a2a" stroke-width="0.9"/>
<line x1="368.5" y1="248.5" x2="372.5" y2="248.5" stroke="#222" stroke-width="1.0"/>
<line x1="370.5" y1="313" x2="370.5" y2="346.5" stroke="#2a2a2a" stroke-width="0.9"/>
<line x1="368.5" y1="346.5" x2="372.5" y2="346.5" stroke="#222" stroke-width="1.0"/>
<rect x="366.70" y="278.80" width="7.60" height="34.20" fill="#4d6282" stroke="#3e4f69" stroke-width="0.5"/>
<line x1="366.7" y1="292.3" x2="374.3" y2="292.3" stroke="#111" stroke-width="1.3"/>
<line x1="387.5" y1="239.5" x2="387.5" y2="271.3" stroke="#2a2a2a" stroke-width="0.9"/>
<line x1="385.5" y1="239.5" x2="389.5" y2="239.5" stroke="#222" stroke-width="1.0"/>
<line x1="387.5" y1="301.8" x2="387.5" y2="346.5" stroke="#2a2a2a" stroke-width="0.9"/>
<line x1="385.5" y1="346.5" x2="389.5" y2="346.5" stroke="#222" stroke-width="1.0"/>
<rect x="383.30" y="271.30" width="8.20" height="30.50" fill="#a13644" stroke="#85303b" stroke-width="0.5"/>
<line x1="383.3" y1="280.8" x2="391.5" y2="280.8" stroke="#111" stroke-width="1.3"/>
<line x1="417.5" y1="244" x2="417.5" y2="261" stroke="#2a2a2a" stroke-width="0.9"/>
<line x1="415.5" y1="244" x2="419.5" y2="244" stroke="#222" stroke-width="1.0"/>
<line x1="417.5" y1="296.3" x2="417.5" y2="346.5" stroke="#2a2a2a" stroke-width="0.9"/>
<line x1="415.5" y1="346.5" x2="419.5" y2="346.5" stroke="#222" stroke-width="1.0"/>
<rect x="413.30" y="261.00" width="8.00" height="35.30" fill="#4d6282" stroke="#3e4f69" stroke-width="0.5"/>
<line x1="413.3" y1="276.3" x2="421.3" y2="276.3" stroke="#111" stroke-width="1.3"/>
<line x1="434.5" y1="229.5" x2="434.5" y2="262.3" stroke="#2a2a2a" stroke-width="0.9"/>
<line x1="432.5" y1="229.5" x2="436.5" y2="229.5" stroke="#222" stroke-width="1.0"/>
<line x1="434.5" y1="303" x2="434.5" y2="346.5" stroke="#2a2a2a" stroke-width="0.9"/>
<line x1="432.5" y1="346.5" x2="436.5" y2="346.5" stroke="#222" stroke-width="1.0"/>
<rect x="430.20" y="262.30" width="8.30" height="40.70" fill="#a13644" stroke="#85303b" stroke-width="0.5"/>
<line x1="430.2" y1="288" x2="438.5" y2="288" stroke="#111" stroke-width="1.3"/>
<line x1="464.5" y1="231.3" x2="464.5" y2="267" stroke="#2a2a2a" stroke-width="0.9"/>
<line x1="462.5" y1="231.3" x2="466.5" y2="231.3" stroke="#222" stroke-width="1.0"/>
<line x1="464.5" y1="310.8" x2="464.5" y2="346.5" stroke="#2a2a2a" stroke-width="0.9"/>
<line x1="462.5" y1="346.5" x2="466.5" y2="346.5" stroke="#222" stroke-width="1.0"/>
<rect x="460.50" y="267.00" width="8.00" height="43.80" fill="#4d6282" stroke="#3e4f69" stroke-width="0.5"/>
<line x1="460.5" y1="287.8" x2="468.5" y2="287.8" stroke="#111" stroke-width="1.3"/>
<line x1="481.5" y1="241.5" x2="481.5" y2="248.5" stroke="#2a2a2a" stroke-width="0.9"/>
<line x1="479.5" y1="241.5" x2="483.5" y2="241.5" stroke="#222" stroke-width="1.0"/>
<line x1="481.5" y1="277.5" x2="481.5" y2="302" stroke="#2a2a2a" stroke-width="0.9"/>
<line x1="479.5" y1="302" x2="483.5" y2="302" stroke="#222" stroke-width="1.0"/>
<rect x="477.50" y="248.50" width="8.00" height="29.00" fill="#a13644" stroke="#85303b" stroke-width="0.5"/>
<line x1="477.5" y1="262.5" x2="485.5" y2="262.5" stroke="#111" stroke-width="1.3"/>
<circle cx="340" cy="334.3" r="1.15" fill="none" stroke="#222" stroke-width="0.7"/>
<circle cx="340" cy="346.5" r="1.15" fill="none" stroke="#222" stroke-width="0.7"/>
<circle cx="328.1" cy="235.15" r="1.3" fill="#333"/>
<circle cx="331.7" cy="235.15" r="1.3" fill="#333"/>
<circle cx="335.2" cy="235.15" r="1.3" fill="#333"/>
<text x="331.8" y="362.7" font-size="6.0" text-anchor="middle" fill="#111" stroke="none">3</text>
<text x="380" y="362.7" font-size="6.0" text-anchor="middle" fill="#111" stroke="none">6</text>
<text x="428.5" y="362.7" font-size="6.0" text-anchor="middle" fill="#111" stroke="none">12</text>
<text x="472.8" y="362.7" font-size="6.0" text-anchor="middle" fill="#111" stroke="none">24</text>
<text x="502.0" y="280.8" font-size="6.5" text-anchor="start" fill="#111" textLength="11.1" lengthAdjust="spacingAndGlyphs" class="bt" >CD8</text>
<text transform="translate(273.2,278.7) rotate(-90)" font-size="8.2" text-anchor="middle" fill="#111" textLength="31.8" lengthAdjust="spacingAndGlyphs" stroke="#111" stroke-width="0.2" style="paint-order:stroke">TREC / ml</text>
<text x="399.5" y="374.9" font-size="9.0" text-anchor="middle" fill="#111" textLength="81.4" lengthAdjust="spacingAndGlyphs" stroke="#111" stroke-width="0.16">Months post-transplant</text>
<text x="108.2" y="398.3" font-size="10.8" text-anchor="start" fill="#111" textLength="5.91" lengthAdjust="spacingAndGlyphs" class="bt" >E</text>
<line x1="135" y1="404.2" x2="135" y2="565.7" stroke="#111" stroke-width="1.1"/>
<line x1="135" y1="565.2" x2="413.4" y2="565.2" stroke="#111" stroke-width="1.1"/>
<line x1="131.8" y1="565.2" x2="135" y2="565.2" stroke="#111" stroke-width="0.9"/>
<text x="129.3" y="567.5500000000001" font-size="6.6" text-anchor="end" fill="#111" textLength="8.2" lengthAdjust="spacingAndGlyphs" class="bt" >0%</text>
<line x1="131.8" y1="547.588888888889" x2="135" y2="547.588888888889" stroke="#111" stroke-width="0.9"/>
<text x="129.3" y="549.938888888889" font-size="6.6" text-anchor="end" fill="#111" textLength="8.2" lengthAdjust="spacingAndGlyphs" class="bt" >2%</text>
<line x1="131.8" y1="529.9777777777778" x2="135" y2="529.9777777777778" stroke="#111" stroke-width="0.9"/>
<text x="129.3" y="532.3277777777778" font-size="6.6" text-anchor="end" fill="#111" textLength="8.2" lengthAdjust="spacingAndGlyphs" class="bt" >4%</text>
<line x1="131.8" y1="512.3666666666667" x2="135" y2="512.3666666666667" stroke="#111" stroke-width="0.9"/>
<text x="129.3" y="514.7166666666667" font-size="6.6" text-anchor="end" fill="#111" textLength="8.2" lengthAdjust="spacingAndGlyphs" class="bt" >6%</text>
<line x1="131.8" y1="494.7555555555556" x2="135" y2="494.7555555555556" stroke="#111" stroke-width="0.9"/>
<text x="129.3" y="497.1055555555556" font-size="6.6" text-anchor="end" fill="#111" textLength="8.2" lengthAdjust="spacingAndGlyphs" class="bt" >8%</text>
<line x1="131.8" y1="477.14444444444445" x2="135" y2="477.14444444444445" stroke="#111" stroke-width="0.9"/>
<text x="129.3" y="479.49444444444447" font-size="6.6" text-anchor="end" fill="#111" textLength="11.36" lengthAdjust="spacingAndGlyphs" class="bt" >10%</text>
<line x1="131.8" y1="459.5333333333333" x2="135" y2="459.5333333333333" stroke="#111" stroke-width="0.9"/>
<text x="129.3" y="461.8833333333333" font-size="6.6" text-anchor="end" fill="#111" textLength="11.36" lengthAdjust="spacingAndGlyphs" class="bt" >12%</text>
<line x1="131.8" y1="441.9222222222222" x2="135" y2="441.9222222222222" stroke="#111" stroke-width="0.9"/>
<text x="129.3" y="444.27222222222224" font-size="6.6" text-anchor="end" fill="#111" textLength="11.36" lengthAdjust="spacingAndGlyphs" class="bt" >14%</text>
<line x1="131.8" y1="424.31111111111113" x2="135" y2="424.31111111111113" stroke="#111" stroke-width="0.9"/>
<text x="129.3" y="426.66111111111115" font-size="6.6" text-anchor="end" fill="#111" textLength="11.36" lengthAdjust="spacingAndGlyphs" class="bt" >16%</text>
<line x1="131.8" y1="406.7" x2="135" y2="406.7" stroke="#111" stroke-width="0.9"/>
<text x="129.3" y="409.05" font-size="6.6" text-anchor="end" fill="#111" textLength="11.36" lengthAdjust="spacingAndGlyphs" class="bt" >18%</text>
<text transform="translate(113.0,484.5) rotate(-90)" font-size="8.4" text-anchor="middle" fill="#111" textLength="39.2" lengthAdjust="spacingAndGlyphs" stroke="#111" stroke-width="0.2" style="paint-order:stroke">Percentage</text>
<rect x="142.70" y="403.80" width="6.90" height="6.20" fill="#a13644" />
<text x="151.2" y="408.9" font-size="5.0" text-anchor="start" fill="#111" textLength="63" lengthAdjust="spacingAndGlyphs" class="bt" >Ratio CD4+ TREC/naive CD4+</text>
<rect x="142.70" y="413.50" width="6.90" height="6.10" fill="#4d6282" />
<text x="151.2" y="417.7" font-size="5.0" text-anchor="start" fill="#111" textLength="63" lengthAdjust="spacingAndGlyphs" class="bt" >Ratio CD8+ TREC/naive CD8+</text>
<rect x="136.70" y="481.50" width="10.60" height="83.70" fill="#a13644" />
<rect x="147.50" y="557.10" width="10.20" height="8.10" fill="#4d6282" />
<rect x="162.10" y="524.90" width="10.60" height="40.30" fill="#a13644" />
<rect x="172.90" y="545.20" width="10.20" height="20.00" fill="#4d6282" />
<rect x="211.90" y="483.00" width="10.60" height="82.20" fill="#a13644" />
<rect x="222.60" y="545.70" width="10.30" height="19.50" fill="#4d6282" />
<rect x="237.20" y="534.10" width="10.60" height="31.10" fill="#a13644" />
<rect x="248.10" y="553.60" width="10.40" height="11.60" fill="#4d6282" />
<rect x="287.40" y="514.60" width="10.30" height="50.60" fill="#a13644" />
<rect x="298.00" y="549.90" width="10.00" height="15.30" fill="#4d6282" />
<rect x="312.60" y="501.90" width="10.60" height="63.30" fill="#a13644" />
<rect x="323.30" y="530.50" width="10.40" height="34.70" fill="#4d6282" />
<rect x="362.30" y="464.50" width="10.60" height="100.70" fill="#a13644" />
<rect x="373.30" y="492.70" width="10.00" height="72.50" fill="#4d6282" />
<rect x="387.60" y="485.70" width="10.60" height="79.50" fill="#a13644" />
<rect x="398.50" y="539.90" width="10.40" height="25.30" fill="#4d6282" />
<line x1="142.0" y1="444.4" x2="142.0" y2="518.8" stroke="#111" stroke-width="0.8"/>
<line x1="140.3" y1="444.4" x2="143.7" y2="444.4" stroke="#111" stroke-width="1.0"/>
<line x1="140.3" y1="518.8" x2="143.7" y2="518.8" stroke="#111" stroke-width="1.0"/>
<line x1="152.6" y1="553.8" x2="152.6" y2="560.4" stroke="#111" stroke-width="0.8"/>
<line x1="150.9" y1="553.8" x2="154.29999999999998" y2="553.8" stroke="#111" stroke-width="1.0"/>
<line x1="150.9" y1="560.4" x2="154.29999999999998" y2="560.4" stroke="#111" stroke-width="1.0"/>
<line x1="167.39999999999998" y1="512.3" x2="167.39999999999998" y2="536.5" stroke="#111" stroke-width="0.8"/>
<line x1="165.7" y1="512.3" x2="169.09999999999997" y2="512.3" stroke="#111" stroke-width="1.0"/>
<line x1="165.7" y1="536.5" x2="169.09999999999997" y2="536.5" stroke="#111" stroke-width="1.0"/>
<line x1="178.0" y1="541.3" x2="178.0" y2="548.8" stroke="#111" stroke-width="0.8"/>
<line x1="176.3" y1="541.3" x2="179.7" y2="541.3" stroke="#111" stroke-width="1.0"/>
<line x1="176.3" y1="548.8" x2="179.7" y2="548.8" stroke="#111" stroke-width="1.0"/>
<line x1="217.2" y1="457.4" x2="217.2" y2="508.3" stroke="#111" stroke-width="0.8"/>
<line x1="215.5" y1="457.4" x2="218.89999999999998" y2="457.4" stroke="#111" stroke-width="1.0"/>
<line x1="215.5" y1="508.3" x2="218.89999999999998" y2="508.3" stroke="#111" stroke-width="1.0"/>
<line x1="227.75" y1="539.6" x2="227.75" y2="551.5" stroke="#111" stroke-width="0.8"/>
<line x1="226.05" y1="539.6" x2="229.45" y2="539.6" stroke="#111" stroke-width="1.0"/>
<line x1="226.05" y1="551.5" x2="229.45" y2="551.5" stroke="#111" stroke-width="1.0"/>
<line x1="242.5" y1="527.4" x2="242.5" y2="539.0" stroke="#111" stroke-width="0.8"/>
<line x1="240.8" y1="527.4" x2="244.2" y2="527.4" stroke="#111" stroke-width="1.0"/>
<line x1="240.8" y1="539.0" x2="244.2" y2="539.0" stroke="#111" stroke-width="1.0"/>
<line x1="253.3" y1="550.9" x2="253.3" y2="556.3" stroke="#111" stroke-width="0.8"/>
<line x1="251.60000000000002" y1="550.9" x2="255.0" y2="550.9" stroke="#111" stroke-width="1.0"/>
<line x1="251.60000000000002" y1="556.3" x2="255.0" y2="556.3" stroke="#111" stroke-width="1.0"/>
<line x1="292.54999999999995" y1="502.5" x2="292.54999999999995" y2="525.9" stroke="#111" stroke-width="0.8"/>
<line x1="290.84999999999997" y1="502.5" x2="294.24999999999994" y2="502.5" stroke="#111" stroke-width="1.0"/>
<line x1="290.84999999999997" y1="525.9" x2="294.24999999999994" y2="525.9" stroke="#111" stroke-width="1.0"/>
<line x1="303.0" y1="545.4" x2="303.0" y2="553.9" stroke="#111" stroke-width="0.8"/>
<line x1="301.3" y1="545.4" x2="304.7" y2="545.4" stroke="#111" stroke-width="1.0"/>
<line x1="301.3" y1="553.9" x2="304.7" y2="553.9" stroke="#111" stroke-width="1.0"/>
<line x1="317.9" y1="483.3" x2="317.9" y2="519.2" stroke="#111" stroke-width="0.8"/>
<line x1="316.2" y1="483.3" x2="319.59999999999997" y2="483.3" stroke="#111" stroke-width="1.0"/>
<line x1="316.2" y1="519.2" x2="319.59999999999997" y2="519.2" stroke="#111" stroke-width="1.0"/>
<line x1="328.5" y1="517.4" x2="328.5" y2="542.6" stroke="#111" stroke-width="0.8"/>
<line x1="326.8" y1="517.4" x2="330.2" y2="517.4" stroke="#111" stroke-width="1.0"/>
<line x1="326.8" y1="542.6" x2="330.2" y2="542.6" stroke="#111" stroke-width="1.0"/>
<line x1="367.6" y1="419.5" x2="367.6" y2="508.6" stroke="#111" stroke-width="0.8"/>
<line x1="365.90000000000003" y1="419.5" x2="369.3" y2="419.5" stroke="#111" stroke-width="1.0"/>
<line x1="365.90000000000003" y1="508.6" x2="369.3" y2="508.6" stroke="#111" stroke-width="1.0"/>
<line x1="378.3" y1="437.4" x2="378.3" y2="546.9" stroke="#111" stroke-width="0.8"/>
<line x1="376.6" y1="437.4" x2="380.0" y2="437.4" stroke="#111" stroke-width="1.0"/>
<line x1="376.6" y1="546.9" x2="380.0" y2="546.9" stroke="#111" stroke-width="1.0"/>
<line x1="392.9" y1="453.8" x2="392.9" y2="517.4" stroke="#111" stroke-width="0.8"/>
<line x1="391.2" y1="453.8" x2="394.59999999999997" y2="453.8" stroke="#111" stroke-width="1.0"/>
<line x1="391.2" y1="517.4" x2="394.59999999999997" y2="517.4" stroke="#111" stroke-width="1.0"/>
<line x1="403.7" y1="531.4" x2="403.7" y2="547.8" stroke="#111" stroke-width="0.8"/>
<line x1="402.0" y1="531.4" x2="405.4" y2="531.4" stroke="#111" stroke-width="1.0"/>
<line x1="402.0" y1="547.8" x2="405.4" y2="547.8" stroke="#111" stroke-width="1.0"/>
<text x="147.3" y="574.1" font-size="6.0" text-anchor="middle" fill="#111" textLength="8.55" lengthAdjust="spacingAndGlyphs" stroke="none">BM</text>
<text x="172.3" y="574.1" font-size="6.0" text-anchor="middle" fill="#111" textLength="13.94" lengthAdjust="spacingAndGlyphs" stroke="none">G-PB</text>
<text x="222.6" y="574.1" font-size="6.0" text-anchor="middle" fill="#111" textLength="8.55" lengthAdjust="spacingAndGlyphs" stroke="none">BM</text>
<text x="247.2" y="574.1" font-size="6.0" text-anchor="middle" fill="#111" textLength="13.94" lengthAdjust="spacingAndGlyphs" stroke="none">G-PB</text>
<text x="297.8" y="574.1" font-size="6.0" text-anchor="middle" fill="#111" textLength="8.55" lengthAdjust="spacingAndGlyphs" stroke="none">BM</text>
<text x="322.8" y="574.1" font-size="6.0" text-anchor="middle" fill="#111" textLength="13.94" lengthAdjust="spacingAndGlyphs" stroke="none">G-PB</text>
<text x="372.8" y="574.1" font-size="6.0" text-anchor="middle" fill="#111" textLength="8.55" lengthAdjust="spacingAndGlyphs" stroke="none">BM</text>
<text x="398.3" y="574.1" font-size="6.0" text-anchor="middle" fill="#111" textLength="13.94" lengthAdjust="spacingAndGlyphs" stroke="none">G-PB</text>
<text x="160" y="583.5" font-size="6.0" text-anchor="middle" fill="#111" textLength="3.07" lengthAdjust="spacingAndGlyphs" stroke="none">3</text>
<text x="235" y="583.5" font-size="6.0" text-anchor="middle" fill="#111" textLength="3.07" lengthAdjust="spacingAndGlyphs" stroke="none">6</text>
<text x="311" y="583.5" font-size="6.0" text-anchor="middle" fill="#111" textLength="6.14" lengthAdjust="spacingAndGlyphs" stroke="none">12</text>
<text x="385.6" y="583.5" font-size="6.0" text-anchor="middle" fill="#111" textLength="6.14" lengthAdjust="spacingAndGlyphs" stroke="none">24</text>
<text x="274.5" y="594.8" font-size="9.0" text-anchor="middle" fill="#111" textLength="80.7" lengthAdjust="spacingAndGlyphs" stroke="#111" stroke-width="0.16">Months post-transplant</text>
<rect x="0" y="1" width="520" height="1" fill="#eee"/>
<rect x="1" y="0" width="1" height="604" fill="#ebebeb"/>
<rect x="0" y="0" width="520" height="1" fill="#0a0a0a"/>
<rect x="0" y="0" width="1" height="604" fill="#0a0a0a"/>
<rect x="0" y="603" width="520" height="1" fill="#0a0a0a"/>
<rect x="518" y="0" width="1" height="604" fill="#9a9a9a"/>
<rect x="519" y="0" width="1" height="604" fill="#474747"/>
</svg>
</body></html>
